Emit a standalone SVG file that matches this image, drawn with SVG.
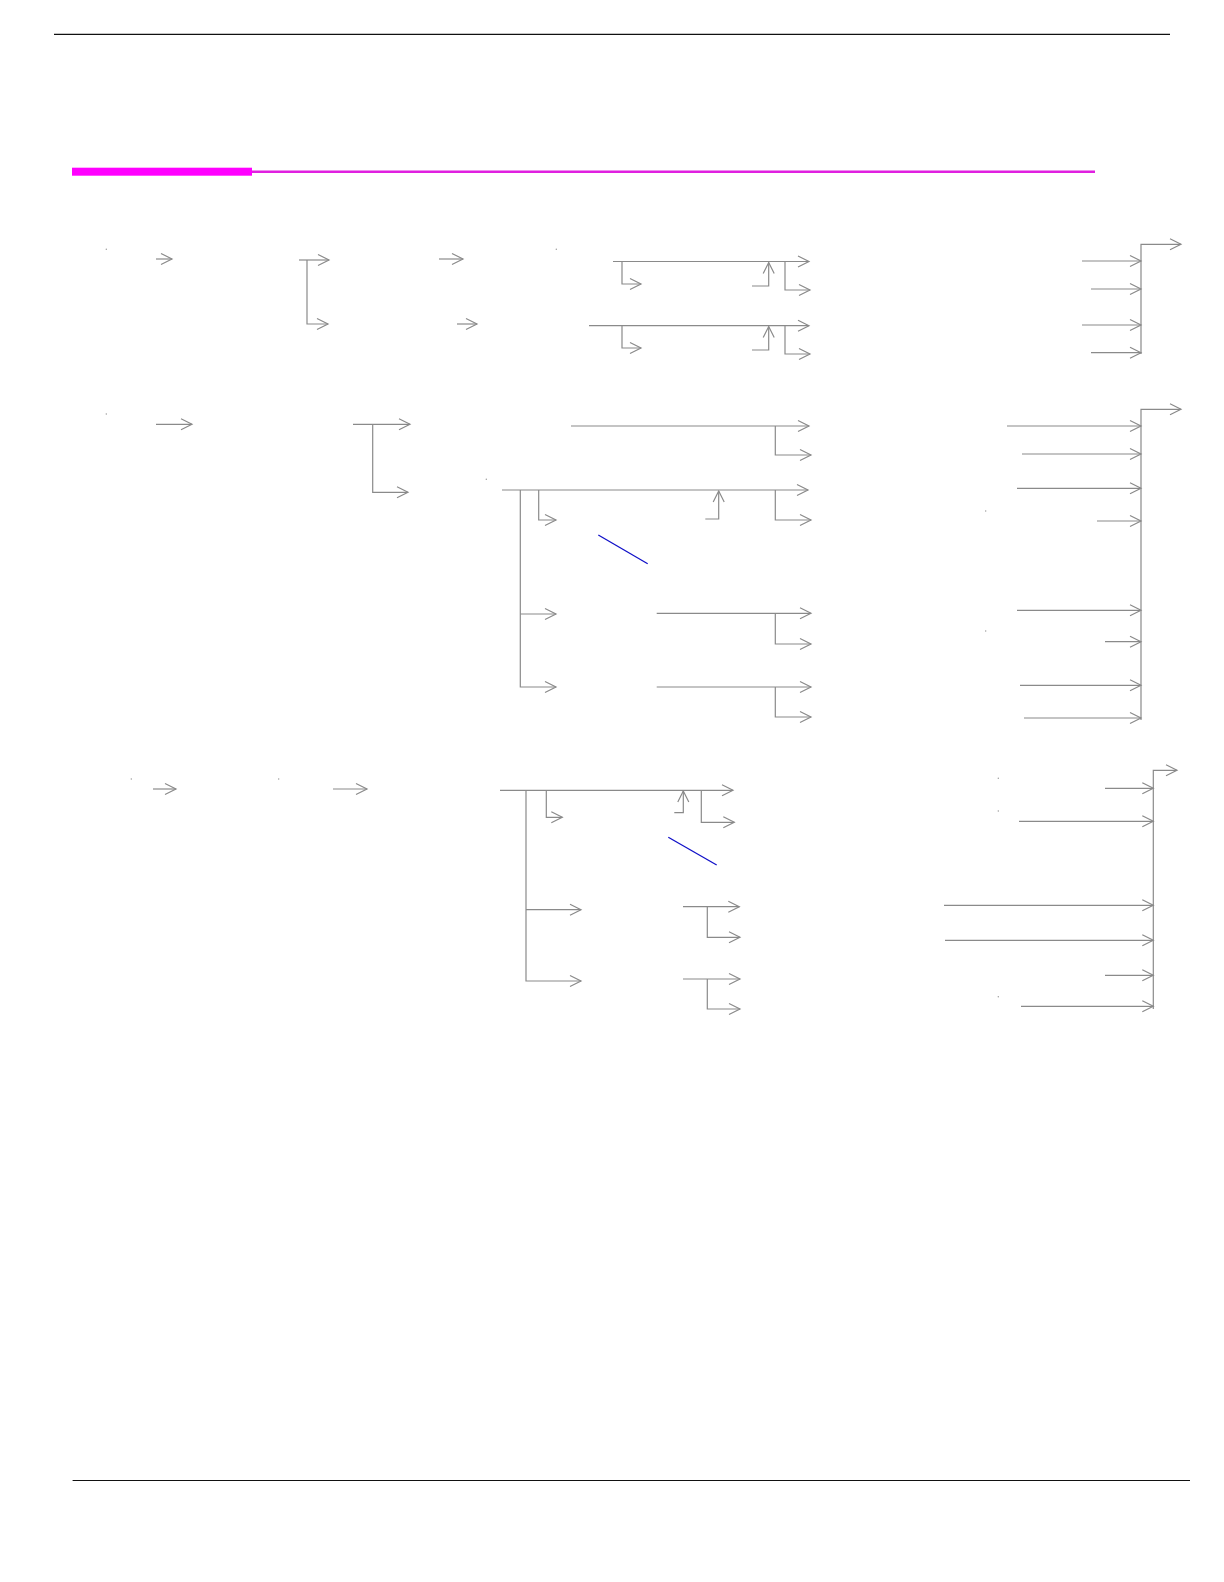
<svg xmlns="http://www.w3.org/2000/svg" width="1224" height="1582" viewBox="0 0 1224 1582">
<style>
.c{fill:none;stroke:#8a8a8a;stroke-width:1.2}
.a{marker-end:url(#ar)}
.b{fill:none;stroke:#1010c8;stroke-width:1.3}
.d{fill:#999}
</style>
<defs>
<marker id="ar" viewBox="0 0 14 14" refX="12.5" refY="7" markerWidth="14" markerHeight="14" markerUnits="userSpaceOnUse" orient="auto">
<path d="M1.5,1.5 L12.5,7 L1.5,12.5" fill="none" stroke="#8a8a8a" stroke-width="1.2"/>
</marker>
</defs>
<rect width="1224" height="1582" fill="#fff"/>
<g id="page">
<line x1="54" y1="34.3" x2="1170" y2="34.3" stroke="#111" stroke-width="1.3"/>
<rect x="72" y="167.7" width="180" height="8" fill="#ff00ff"/>
<line x1="252" y1="171.7" x2="1095" y2="171.7" stroke="#e020e0" stroke-width="2.5"/>
<line x1="72.6" y1="1480.5" x2="1190" y2="1480.5" stroke="#111" stroke-width="1.1"/>
</g>
<g id="marks">
<circle class="d" cx="106.3" cy="249.3" r="0.7"/>
<circle class="d" cx="556.3" cy="249.3" r="0.7"/>
<circle class="d" cx="106.3" cy="414" r="0.7"/>
<circle class="d" cx="486.3" cy="479.3" r="0.7"/>
<circle class="d" cx="985.7" cy="511" r="0.7"/>
<circle class="d" cx="985.7" cy="631" r="0.7"/>
<circle class="d" cx="131.3" cy="779" r="0.7"/>
<circle class="d" cx="278.7" cy="779" r="0.7"/>
<circle class="d" cx="998.3" cy="778.3" r="0.7"/>
<circle class="d" cx="998.3" cy="811" r="0.7"/>
<circle class="d" cx="998.3" cy="996.7" r="0.7"/>
</g>
<g id="connectors">
<g id="section1">
<path class="c a" d="M156,259 H172"/>
<path class="c a" d="M299,260 H329"/>
<path class="c a" d="M307,260 V324 H328"/>
<path class="c a" d="M439,259 H463"/>
<path class="c a" d="M457,324 H477"/>
<path class="c a" d="M613,261.5 H809"/>
<path class="c a" d="M622,261.5 V284 H641"/>
<path class="c a" d="M752,286 H768.7 V262.5"/>
<path class="c a" d="M785,262 V290 H810"/>
<path class="c a" d="M589,325.7 H809"/>
<path class="c a" d="M622,325.7 V348 H641"/>
<path class="c a" d="M752,350 H768.7 V326.5"/>
<path class="c a" d="M785,326 V354 H810"/>
<path class="c a" d="M1141,354 V244.3 H1181"/>
<path class="c a" d="M1082,261 H1141"/>
<path class="c a" d="M1091,289 H1141"/>
<path class="c a" d="M1082,325 H1141"/>
<path class="c a" d="M1091,352.7 H1141"/>
</g>
<g id="section2">
<path class="c a" d="M156,424.3 H192"/>
<path class="c a" d="M353,424.3 H410"/>
<path class="c a" d="M372.7,424.3 V492.3 H408"/>
<path class="c a" d="M571,426 H809"/>
<path class="c a" d="M775.3,426 V455 H811"/>
<path class="c a" d="M502,490 H808"/>
<path class="c a" d="M520.3,490 V687 H556"/>
<path class="c a" d="M520.3,614 H556"/>
<path class="c a" d="M538.7,490 V520 H556"/>
<path class="c a" d="M705.3,519 H718.7 V491"/>
<path class="c a" d="M775.3,490 V520 H811"/>
<path class="b" d="M598.3,535 L647.7,563.7"/>
<path class="c a" d="M656.7,613.3 H811"/>
<path class="c a" d="M775.3,613.3 V644 H811"/>
<path class="c a" d="M656.7,687 H811"/>
<path class="c a" d="M775.3,687 V717 H811"/>
<path class="c a" d="M1141,720 V409.3 H1181"/>
<path class="c a" d="M1007,426 H1141"/>
<path class="c a" d="M1022,454 H1141"/>
<path class="c a" d="M1017,488.3 H1141"/>
<path class="c a" d="M1097,521 H1141"/>
<path class="c a" d="M1017,610.3 H1141"/>
<path class="c a" d="M1105,641.7 H1141"/>
<path class="c a" d="M1020,685.3 H1141"/>
<path class="c a" d="M1024,718 H1141"/>
</g>
<g id="section3">
<path class="c a" d="M153,789 H176"/>
<path class="c a" d="M333,789 H367"/>
<path class="c a" d="M500,790.3 H733"/>
<path class="c a" d="M526,790.3 V981 H581"/>
<path class="c a" d="M526,909.7 H581"/>
<path class="c a" d="M546.3,790.3 V817.3 H562.3"/>
<path class="c a" d="M674.3,812.7 H683.3 V791"/>
<path class="c a" d="M701.3,790.3 V822.3 H734.3"/>
<path class="b" d="M668.3,837.3 L716.7,865"/>
<path class="c a" d="M683,906.7 H739.3"/>
<path class="c a" d="M707.3,906.7 V937.3 H740"/>
<path class="c a" d="M683,979 H740"/>
<path class="c a" d="M707.3,979 V1009 H740"/>
<path class="c a" d="M1153.3,1009 V770.3 H1177"/>
<path class="c a" d="M1105,788.3 H1153.3"/>
<path class="c a" d="M1019,821.3 H1153.3"/>
<path class="c a" d="M944,905.3 H1153.3"/>
<path class="c a" d="M945,940.3 H1153.3"/>
<path class="c a" d="M1105,975.3 H1153.3"/>
<path class="c a" d="M1021,1006.3 H1153.3"/>
</g>
</g>
</svg>
